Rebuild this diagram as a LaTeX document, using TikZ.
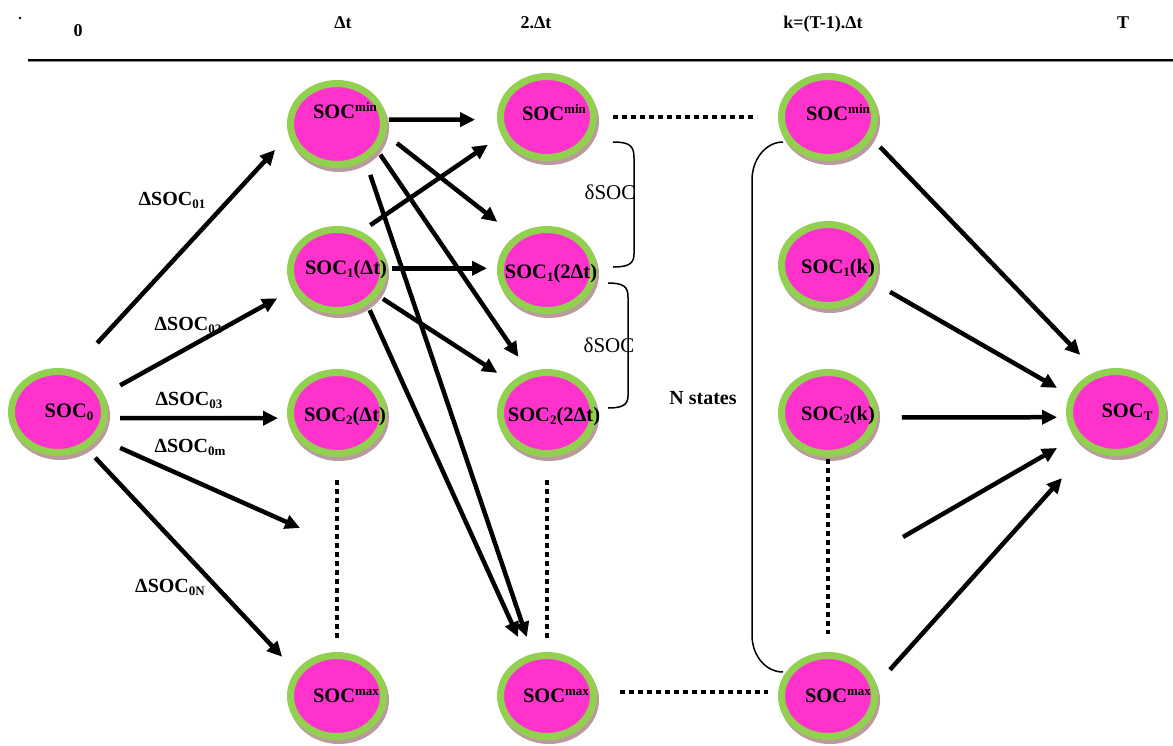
\documentclass[tikz,border=0pt]{standalone}
\usepackage{fontspec}
\setmainfont{Liberation Serif}
\usetikzlibrary{arrows.meta,shapes.geometric,calc}
\definecolor{ballgreen}{RGB}{146,208,80}
\definecolor{ballpink}{RGB}{255,51,204}
\definecolor{ballshadow}{RGB}{185,155,155}
\newcommand{\hi}[1]{\raisebox{7pt}{\fontsize{13}{13}\selectfont #1}}
\newcommand{\lo}[1]{\raisebox{-3pt}{\fontsize{13}{13}\selectfont #1}}
\begin{document}
\begin{tikzpicture}[x=1pt,y=-1pt,
  ball/.style={ellipse, draw=ballgreen, fill=ballpink, line width=7pt,
    minimum width=93pt, minimum height=81pt, inner sep=0pt,
    preaction={draw=ballshadow, fill=ballshadow, line width=7pt,
      transform canvas={shift={(2pt,-4pt)}}}},
  txt/.style={anchor=base, inner sep=0pt, font=\fontsize{20.5}{24}\selectfont\bfseries},
  lbl/.style={anchor=base, inner sep=0pt, font=\fontsize{20}{24}\selectfont\bfseries},
  rlbl/.style={anchor=base, inner sep=0pt, font=\fontsize{21}{24}\selectfont},
  hdr/.style={anchor=base, inner sep=0pt, font=\fontsize{18}{20}\selectfont\bfseries},
  arr/.style={line width=4.5pt, -{Triangle[length=15pt,width=14pt]}},
  vdots/.style={line width=4pt, dash pattern=on 4.5pt off 4.5pt},
  hdots/.style={line width=4pt, dash pattern=on 5pt off 4pt},
  brk/.style={line width=1.5pt}
]
\useasboundingbox (0,0) rectangle (1173,745);

% header
\fill (20,18) circle (1.4pt);
\node[hdr] (h0) at (78,36) {0};
\node[hdr] (h1) at (343,28) {Δt};
\node[hdr] (h2) at (536,28) {2.Δt};
\node[hdr] (h3) at (823,28) {k=(T-1).Δt};
\node[hdr] (h4) at (1123,28) {T};
\draw[line width=1pt, black!45] (28,61.5) -- (1173,61.5);
\draw[line width=2pt] (28,59.5) -- (1173,59.5);

% nodes
\node[ball] (n0) at (58,412) {};
\node[ball] (a1) at (337,124) {};
\node[ball] (a2) at (337,270) {};
\node[ball] (a3) at (337,413) {};
\node[ball] (a4) at (337,696) {};
\node[ball] (b1) at (547,117) {};
\node[ball] (b2) at (547,270) {};
\node[ball] (b3) at (547,413) {};
\node[ball] (b4) at (547,696) {};
\node[ball] (c1) at (828,117) {};
\node[ball] (c2) at (828,265) {};
\node[ball] (c3) at (828,413) {};
\node[ball] (c4) at (828,696) {};
\node[ball] (nT) at (1116,412) {};

% node texts
\node[txt] (t0) at (69,417) {SOC\lo{0}};
\node[txt] (ta1) at (345,118) {SOC\hi{min}};
\node[txt] (ta2) at (346,274) {SOC\lo{1}(Δt)};
\node[txt] (ta3) at (345,421) {SOC\lo{2}(Δt)};
\node[txt] (ta4) at (346,702) {SOC\hi{max}};
\node[txt] (tb1) at (554,120) {SOC\hi{min}};
\node[txt] (tb2) at (551,278) {SOC\lo{1}(2Δt)};
\node[txt] (tb3) at (554,421) {SOC\lo{2}(2Δt)};
\node[txt] (tb4) at (556,702) {SOC\hi{max}};
\node[txt] (tc1) at (838,120) {SOC\hi{min}};
\node[txt] (tc2) at (838,273) {SOC\lo{1}(k)};
\node[txt] (tc3) at (838,420) {SOC\lo{2}(k)};
\node[txt] (tc4) at (838,702) {SOC\hi{max}};
\node[txt] (tT) at (1127,417) {SOC\lo{T}};

% edge labels
\node[lbl] (l1) at (172,205) {ΔSOC\lo{01}};
\node[lbl] (l2) at (188,330) {ΔSOC\lo{02}};
\node[lbl] (l3) at (189,405) {ΔSOC\lo{03}};
\node[lbl] (l4) at (190,452) {ΔSOC\lo{0m}};
\node[lbl] (l5) at (170,592) {ΔSOC\lo{0N}};
\node[rlbl] (d1) at (610,199) {δSOC};
\node[rlbl] (d2) at (609,352) {δSOC};
\node[lbl] (ns) at (703,404) {N states};

% free ends
\coordinate (m1) at (300,528);
\coordinate (m2) at (903,537);

% arrows from SOC0
\draw[arr, shorten <=36.5pt, shorten >=20pt] (n0.71) -- (a1.193);
\draw[arr, shorten <=18.7pt, shorten >=17.4pt] (n0.21) -- (a2.204);
\draw[arr, shorten <=12.5pt, shorten >=9.3pt] (n0.-7) -- (a3.186);
\draw[arr, shorten <=24pt] (n0.-33) -- (m1);
\draw[arr, shorten <=13pt, shorten >=19.8pt] (n0.-52) -- (a4.149);

% arrows from column 1
\draw[arr, shorten <=2.2pt, shorten >=22pt] (a1.5) -- (b1.183);
\draw[arr, shorten <=14.4pt, shorten >=22.9pt] (a1.-12) -- (b2.133);
\draw[arr, shorten <=5.4pt, shorten >=18.4pt] (a1.-33) -- (b3.114);
\draw[arr, shorten <=15.4pt, shorten >=17.8pt] (a1.-52) -- (b4.109);
\draw[arr, shorten <=11.2pt, shorten >=16.6pt] (a2.58) -- (b1.202);
\draw[arr, shorten <=5pt, shorten >=10pt] (a2.2) -- (b2.178);
\draw[arr, shorten <=6.2pt, shorten >=16.9pt] (a2.-32) -- (b3.139);
\draw[arr, shorten <=5.7pt, shorten >=20.7pt] (a2.-49) -- (b4.117);

% arrows into SOC_T
\draw[arr, shorten <=12pt, shorten >=23.1pt] (c1.-26) -- (nT.116);
\draw[arr, shorten <=18.7pt, shorten >=14.7pt] (c2.-21) -- (nT.160);
\draw[arr, shorten <=24.2pt, shorten >=9.3pt] (c3.-5) -- (nT.186);
\draw[arr, shorten >=21pt] (m2) -- (nT.212);
\draw[arr, shorten <=20.3pt, shorten >=39.5pt] (c4.13) -- (nT.233);

% dotted lines
\draw[vdots, shorten <=23pt, shorten >=12pt] (a3.south) -- (a4.north);
\draw[vdots, shorten <=23pt, shorten >=12pt] (b3.south) -- (b4.north);
\draw[vdots, shorten <=2pt, shorten >=18pt] (c3.south) -- (c4.north);
\draw[hdots, shorten <=16pt, shorten >=21pt] (b1.east) -- (c1.west);
\draw[hdots, shorten <=23pt, shorten >=10pt] (b4.5) -- (c4.175);

% brackets
\draw[brk] (613,142) .. controls (630,142) and (634,146) .. (634,158) -- (634,254) .. controls (634,264) and (628,267) .. (613,267);
\draw[brk] (608,283) .. controls (624,283) and (628,287) .. (628,297) -- (628,396) .. controls (628,405) and (622,408) .. (608,408);
\draw[brk] (783,142) .. controls (766,142) and (752,159) .. (752,180) -- (752,635) .. controls (752,656) and (766,672) .. (783,672);
\end{tikzpicture}
\end{document}
